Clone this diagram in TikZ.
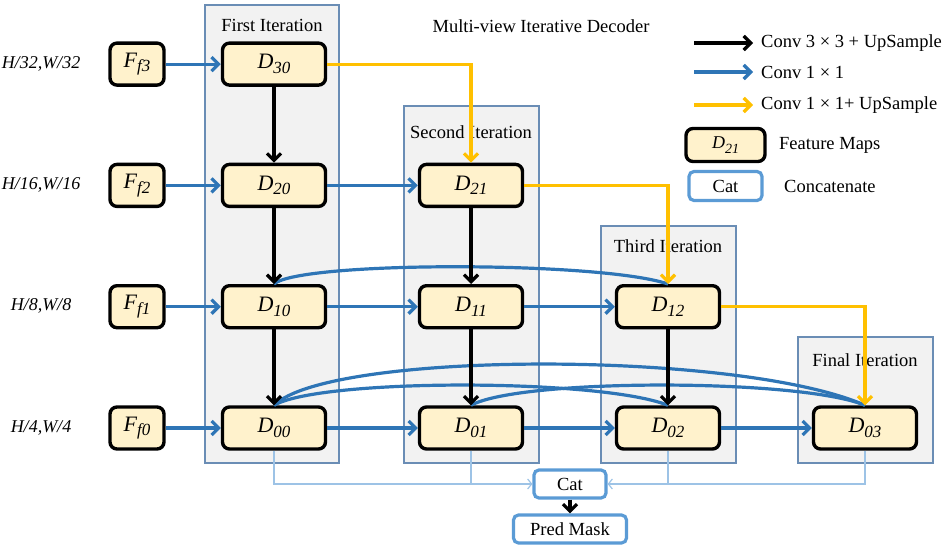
\documentclass[tikz,border=0pt]{standalone}
\usepackage{fontspec}
\setmainfont{Liberation Serif}
\usetikzlibrary{arrows.meta,positioning}
\definecolor{featfill}{HTML}{FFF2CC}
\definecolor{convblue}{HTML}{2E75B6}
\definecolor{upyellow}{HTML}{FFC000}
\definecolor{iterfill}{HTML}{F2F2F2}
\definecolor{iterline}{HTML}{6A8DB5}
\definecolor{catline}{HTML}{5B9BD5}
\definecolor{linkline}{HTML}{9DC3E6}

% feature map label with a lowered italic index
\newcommand{\fsub}[3][17]{\textit{#2}\raisebox{-4.5pt}{\fontsize{#1}{#1}\selectfont\itshape #3}}

\tikzset{
  fmap/.style={draw=black, line width=3.4pt, fill=featfill, rounded corners=7pt,
    minimum width=103pt, minimum height=42pt, inner sep=0pt,
    font=\fontsize{22}{24}\selectfont},
  fin/.style={fmap, minimum width=54pt},
  catbox/.style={draw=catline, line width=3.2pt, fill=white, rounded corners=5pt,
    minimum height=28pt, inner sep=0pt, font=\fontsize{18.5}{21}\selectfont},
  iterbox/.style={draw=iterline, fill=iterfill, line width=1.2pt},
  ttl/.style={inner sep=0pt, font=\fontsize{18.5}{21}\selectfont},
  lgd/.style={inner sep=0pt, font=\fontsize{18.5}{21}\selectfont},
  rowlbl/.style={inner sep=0pt, font=\fontsize{18}{21}\selectfont\itshape},
  blu/.style={draw=convblue, line width=3.2pt, -{Straight Barb[length=7pt,width=14pt]}},
  blk/.style={draw=black, line width=3.2pt, -{Straight Barb[length=7pt,width=14pt]}},
  yel/.style={draw=upyellow, line width=3.2pt, -{Straight Barb[length=7pt,width=14pt]}},
  skipc/.style={draw=convblue, line width=3.2pt},
  link/.style={draw=linkline, line width=1.2pt, -{Straight Barb[length=4pt,width=10pt]}},
  linkplain/.style={draw=linkline, line width=1.2pt},
}

\begin{document}
\begin{tikzpicture}[x=1pt, y=-1pt]
\useasboundingbox (0,0) rectangle (943,546);

% Iteration panels
\filldraw[iterbox] (205,5) rectangle (339,463);
\filldraw[iterbox] (404,106) rectangle (539,463);
\filldraw[iterbox] (601,226) rectangle (736,463);
\filldraw[iterbox] (798,337) rectangle (933,463);
\node[ttl] (t1) at (272,25) {First Iteration};
\node[ttl] (t2) at (471,132) {Second Iteration};
\node[ttl] (t3) at (668,246) {Third Iteration};
\node[ttl] (t4) at (865,360) {Final Iteration};
\node[ttl] (title) at (541,26) {Multi-view Iterative Decoder};

% Scales and encoder features
\node[rowlbl] (s3) at (41,64) {H/32,W/32};
\node[rowlbl] (s2) at (41,185) {H/16,W/16};
\node[rowlbl] (s1) at (41,306) {H/8,W/8};
\node[rowlbl] (s0) at (41,428) {H/4,W/4};
\foreach \r in {0,...,3}
  \node[fin] (F\r) at (137,{428-121.3*\r}) {\fsub{F}{f\r}};

% Decoder feature maps
\foreach \r in {0,...,3} {
  \foreach \c in {0,...,3} {
    \pgfmathtruncatemacro\s{\r+\c}
    \ifnum\s<4
      \node[fmap] (D\r\c) at ({274+197*\c},{428-121.3*\r}) {\fsub{D}{\r\c}};
    \fi
  }
}

% Dense skip connections
\draw[skipc] (D10.north) .. controls +(26,-23) and +(-68,-23) .. (D12.north);
\draw[skipc] (D00.north) .. controls +(56,-55) and +(-125,-55) .. (D03.north);
\draw[skipc] (D00.north) .. controls +(46,-27) and +(-68,-27) .. (D02.north);
\draw[skipc] (D01.north) .. controls +(49,-27) and +(-65,-27) .. (D03.north);

% Conv 1x1
\foreach \r in {0,...,3}
  \draw[blu] (F\r) -- (D\r0);
\foreach \r/\c/\n in {2/0/1, 1/0/1, 1/1/2, 0/0/1, 0/1/2, 0/2/3}
  \draw[blu] (D\r\c) -- (D\r\n);

% Conv 3x3 + UpSample
\foreach \c/\r/\n in {0/3/2, 0/2/1, 0/1/0, 1/2/1, 1/1/0, 2/1/0}
  \draw[blk] (D\r\c) -- (D\n\c);

% Conv 1x1 + UpSample
\draw[yel] (D30.east) -| (D21.north);
\draw[yel] (D21.east) -| (D12.north);
\draw[yel] (D12.east) -| (D03.north);

% Concatenation and prediction
\node[catbox, minimum width=72pt] (cat) at (570,484) {Cat};
\node[catbox, minimum width=113pt] (pred) at (570,529) {Pred Mask};
\draw[link] (D00.south) |- (cat.west);
\draw[linkplain] (D01.south) -- (D01.south |- cat.west);
\draw[link] (D03.south) |- (cat.east);
\draw[linkplain] (D02.south) -- (D02.south |- cat.east);
\draw[blk] (cat) -- (pred);

% Legend
\coordinate (lk0) at (694,43);  \coordinate (lk1) at (753,43);
\coordinate (lb0) at (694,72);  \coordinate (lb1) at (753,72);
\coordinate (ly0) at (694,105); \coordinate (ly1) at (753,105);
\draw[blk] (lk0) -- (lk1);
\draw[blu] (lb0) -- (lb1);
\draw[yel] (ly0) -- (ly1);
\node[lgd, right=8pt of lk1] (lkt) {Conv 3 × 3 + UpSample};
\node[lgd, right=8pt of lb1] (lbt) {Conv 1 × 1};
\node[lgd, right=8pt of ly1] (lyt) {Conv 1 × 1+ UpSample};
\node[fmap, minimum width=79pt, minimum height=33pt, font=\fontsize{18}{20}\selectfont]
  (lf) at (725.5,145) {\fsub[14]{D}{21}};
\node[lgd, anchor=west] (lft) at (779,145) {Feature Maps};
\node[catbox, minimum width=73pt, minimum height=29pt] (lc) at (725.5,186) {Cat};
\node[lgd, anchor=west] (lct) at (784,186) {Concatenate};
\end{tikzpicture}
\end{document}
